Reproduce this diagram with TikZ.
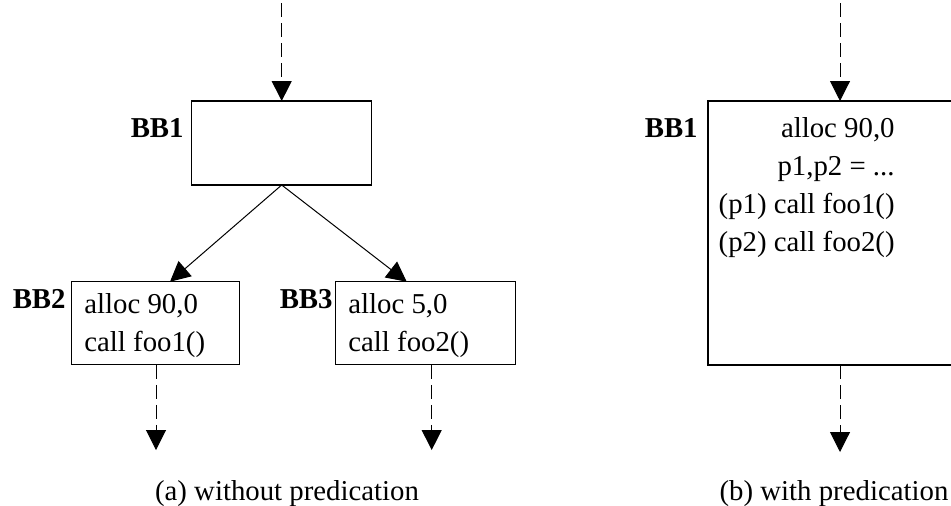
\documentclass[tikz,border=0pt]{standalone}
\usepackage{fontspec}
\setmainfont{Liberation Serif}
\usetikzlibrary{arrows.meta}
\begin{document}
\begin{tikzpicture}[x=0.5pt,y=-0.5pt,
  every node/.style={font=\fontsize{14.4}{19}\selectfont},
  block/.style={draw,line width=0.55pt,inner sep=0pt,outer sep=0pt},
  bblabel/.style={font=\fontsize{14.4}{19}\selectfont\bfseries,inner sep=0pt,anchor=east},
  flow/.style={line width=0.5pt,-{Triangle[width=10pt,length=10pt]}},
  dflow/.style={flow,dash pattern=on 7pt off 3pt},
  code/.style={inner sep=0pt,align=left}]
\useasboundingbox (0,0) rectangle (951,505);

% (a) without predication
\node[block,minimum width=90pt,minimum height=42pt] (a1) at (281.7,143) {};
\node[block,minimum width=84pt,minimum height=41.5pt] (a2) at (155.8,323.3) {};
\node[block,minimum width=90pt,minimum height=41.5pt] (a3) at (425.8,323.3) {};
\node[code,anchor=west] (t2) at (84,326) {alloc 90,0\\call foo1()};
\node[code,anchor=west] (t3) at (348,326) {alloc 5,0\\call foo2()};
\node[bblabel] (l1) at (184,128) {BB1};
\node[bblabel] (l2) at (66,299) {BB2};
\node[bblabel] (l3) at (333,299) {BB3};

\coordinate (in1) at (281.7,3);
\coordinate (e2) at (170,281.7);
\coordinate (e3) at (406.7,281.7);
\coordinate (out2) at (156,450);
\coordinate (out3) at (431.7,450);
\draw[dflow] (in1) -- (a1.north);
\draw[flow] (a1.south) -- (e2);
\draw[flow] (a1.south) -- (e3);
\draw[dflow] (out2 |- a2.south) -- (out2);
\draw[dflow] (out3 |- a3.south) -- (out3);

\node[inner sep=0pt] (capa) at (287,494) {(a) without predication};

% (b) with predication
\node[block,minimum width=132pt,minimum height=132pt] (b1) at (840,233) {};
\node[code,align=right,anchor=east] (tb) at (895,188) {alloc 90,0\\p1,p2 = ...\\(p1) call foo1()\\(p2) call foo2()};
\node[bblabel] (lb) at (698,128) {BB1};
\coordinate (inb) at (840,3);
\coordinate (outb) at (840,452);
\draw[dflow] (inb) -- (b1.north);
\draw[dflow] (b1.south) -- (outb);

\node[inner sep=0pt] (capb) at (834,494) {(b) with predication};
\end{tikzpicture}
\end{document}
